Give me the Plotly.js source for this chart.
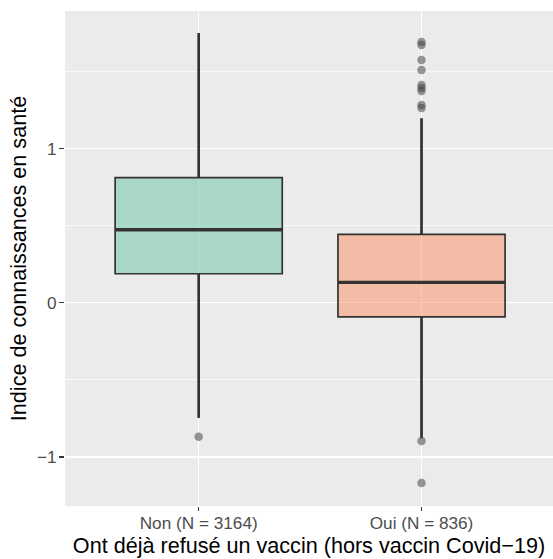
<!DOCTYPE html>
<html>
<head>
<meta charset="utf-8">
<script src="https://cdn.plot.ly/plotly-3.0.1.min.js"></script>
<style>html,body{margin:0;padding:0;background:#fff;}#chart{width:553px;height:559px;}</style>
</head>
<body>
<div id="chart"></div>
<script>
// Data
const categories = ["Non (N = 3164)", "Oui (N = 836)"];
const positions = [1, 2];
const q1 = [0.188, -0.091];
const medians = [0.473, 0.132];
const q3 = [0.811, 0.444];
const lowerWhisker = [-0.746, -0.878];
const upperWhisker = [1.749, 1.196];
const outliersNon = [-0.869];
const outliersOui = [1.691, 1.671, 1.574, 1.509, 1.412, 1.392, 1.373, 1.282, 1.263, -0.897, -1.169];
const fills = ["rgba(102,194,165,0.5)", "rgba(252,141,98,0.5)"];

const boxWidth = 0.75;
const lineCol = "#333333";
const traces = [];

categories.forEach((c, i) => {
  traces.push({
    type: "box",
    x: [positions[i]],
    q1: [q1[i]], median: [medians[i]], q3: [q3[i]],
    lowerfence: [lowerWhisker[i]], upperfence: [upperWhisker[i]],
    width: boxWidth,
    whiskerwidth: 0,
    fillcolor: fills[i],
    line: {color: lineCol, width: 1.7},
    boxpoints: false,
    hoverinfo: "skip",
    showlegend: false
  });
});

// whiskers (thicker, like ggplot)
categories.forEach((c, i) => {
  traces.push({
    type: "scatter", mode: "lines",
    x: [positions[i], positions[i], null, positions[i], positions[i]],
    y: [upperWhisker[i], q3[i], null, q1[i], lowerWhisker[i]],
    line: {color: lineCol, width: 2.6},
    hoverinfo: "skip", showlegend: false
  });
  // fattened median
  traces.push({
    type: "scatter", mode: "lines",
    x: [positions[i] - boxWidth / 2, positions[i] + boxWidth / 2],
    y: [medians[i], medians[i]],
    line: {color: lineCol, width: 3.4},
    hoverinfo: "skip", showlegend: false
  });
});

const outlierSets = [outliersNon, outliersOui];
outlierSets.forEach((arr, i) => {
  traces.push({
    type: "scatter", mode: "markers",
    x: arr.map(() => positions[i]),
    y: arr,
    marker: {color: "rgba(70,70,70,0.55)", size: 8.5, line: {width: 0}},
    hoverinfo: "skip", showlegend: false
  });
});

const font = "Liberation Sans, Arial, Helvetica, sans-serif";
const layout = {
  width: 553, height: 559,
  margin: {l: 65, r: 0, t: 11, b: 53},
  paper_bgcolor: "#ffffff",
  plot_bgcolor: "#ebebeb",
  font: {family: font, color: "#000"},
  showlegend: false,
  xaxis: {
    range: [0.4, 2.59],
    tickmode: "array", tickvals: positions, ticktext: categories,
    showgrid: true, gridcolor: "#ffffff", gridwidth: 1.4,
    zeroline: false, showline: false,
    ticks: "outside", ticklen: 4, tickwidth: 1.3, tickcolor: "#333333",
    ticklabelstandoff: -3,
    tickfont: {family: font, size: 17.2, color: "#4d4d4d"},
    title: {text: "Ont déjà refusé un vaccin (hors vaccin Covid−19)", font: {family: font, size: 21.6, color: "#000"}, standoff: 3},
    automargin: false
  },
  yaxis: {
    range: [-1.318, 1.892],
    tickmode: "array", tickvals: [-1, 0, 1],
    showgrid: true, gridcolor: "#ffffff", gridwidth: 1.4,
    minor: {dtick: 0.5, tick0: 0.5, showgrid: true, gridcolor: "#ffffff", gridwidth: 0.7, ticks: ""},
    zeroline: false, showline: false,
    ticks: "outside", ticklen: 5, tickwidth: 1.3, tickcolor: "#333333",
    ticklabelstandoff: -1,
    tickfont: {family: font, size: 17.2, color: "#4d4d4d"},
    title: {text: "Indice de connaissances en santé", font: {family: font, size: 21.6, color: "#000"}, standoff: 4},
    automargin: false
  }
};

Plotly.newPlot("chart", traces, layout, {displayModeBar: false, staticPlot: true});
</script>
</body>
</html>
